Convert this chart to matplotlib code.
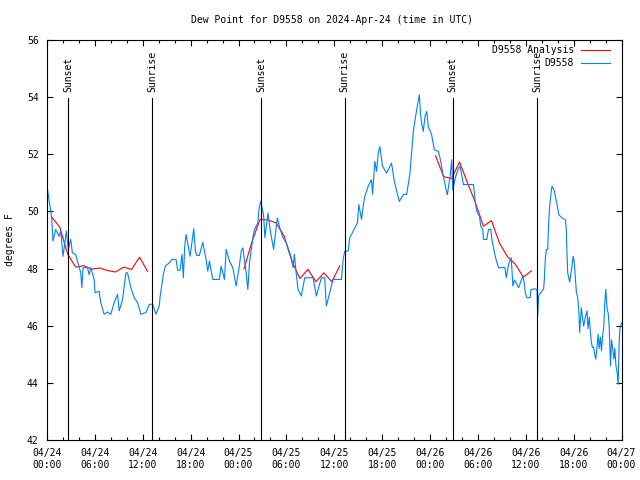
import matplotlib
matplotlib.use('Agg')
import matplotlib.pyplot as plt
import matplotlib.dates as mdates
import pandas as pd

plt.rcParams['font.family'] = ['DejaVu Sans Mono']
plt.rcParams['font.size'] = 7

inicio = pd.Timestamp('2024-04-24 00:00')

# Estacao D9558 - horas desde 04/24 00:00 UTC e ponto de orvalho (F)
horas_obs = [0.04, 0.25, 0.59, 0.75, 1.09, 1.51, 1.72, 2.01, 2.43, 2.68, 2.97, 3.18, 3.6, 3.81,
             4.23, 4.36, 4.52, 5.07, 5.28, 5.49, 5.91, 6.03, 6.53, 6.74, 7.16, 7.58, 8.0, 8.42,
             8.84, 9.05, 9.47, 9.89, 10.09, 10.51, 10.93, 11.35, 11.77, 12.4, 12.82, 13.24, 13.66,
             14.07, 14.16, 14.58, 14.83, 15.33, 15.67, 16.17, 16.38, 16.67, 16.92, 17.09, 17.26,
             17.43, 17.93, 18.39, 18.6, 18.77, 19.1, 19.52, 19.94, 20.15, 20.36, 20.78, 21.61,
             21.82, 22.24, 22.45, 22.87, 23.29, 23.71, 24.13, 24.34, 24.55, 24.96, 25.17, 25.38,
             25.8, 26.01, 26.43, 26.56, 26.77, 27.14, 27.31, 27.69, 28.0, 28.4, 28.86, 29.2, 29.57,
             29.99, 30.62, 30.83, 31.0, 31.25, 31.46, 31.88, 32.3, 33.34, 33.76, 34.39, 34.8, 35.01,
             35.85, 36.9, 37.11, 37.32, 37.74, 37.95, 38.58, 38.91, 39.08, 39.42, 39.63, 39.83,
             40.25, 40.67, 40.8, 40.95, 41.09, 41.3, 41.51, 41.72, 42.05, 42.56, 43.18, 43.5, 43.73,
             44.15, 44.7, 45.07, 45.49, 45.91, 46.33, 46.66, 46.82, 46.95, 47.16, 47.37, 47.58,
             47.79, 48.21, 48.54, 49.05, 49.26, 49.68, 50.1, 50.18, 50.52, 50.73, 50.85, 51.2,
             51.57, 51.77, 52.19, 53.45, 53.66, 53.87, 54.2, 54.37, 54.62, 54.7, 55.12, 55.33,
             55.63, 55.75, 56.17, 56.59, 57.4, 57.55, 57.84, 58.18, 58.39, 58.6, 59.1, 59.64, 59.8,
             59.94, 60.15, 60.55, 60.65, 61.2, 61.41, 61.5, 61.62, 62.24, 62.33, 62.45, 62.58,
             62.75, 62.87, 63.0, 63.17, 63.29, 63.45, 63.59, 63.84, 64.0, 64.13, 64.55, 64.97,
             65.09, 65.18, 65.26, 65.38, 65.51, 65.67, 65.8, 65.93, 66.05, 66.22, 66.35, 66.5,
             66.64, 66.76, 66.85, 66.97, 67.1, 67.26, 67.47, 67.68, 67.8, 67.97, 68.1, 68.23,
             68.35, 68.5, 68.65, 68.78, 68.95, 69.07, 69.2, 69.35, 69.49, 69.62, 69.78, 69.91,
             70.03, 70.2, 70.33, 70.45, 70.62, 70.75, 70.9, 71.04, 71.17, 71.3, 71.46, 71.58,
             71.71, 71.79, 72.0]
orvalho_obs = [50.82, 50.41, 49.77, 48.96, 49.37, 49.13, 49.31, 48.43, 49.31, 48.67, 49.02, 48.55,
               48.49, 48.26, 47.85, 47.33, 48.03, 48.03, 47.79, 48.03, 47.62, 47.15, 47.21, 46.81,
               46.4, 46.48, 46.4, 46.81, 47.1, 46.52, 46.92, 47.85, 47.85, 47.33, 46.98, 46.81,
               46.4, 46.46, 46.75, 46.75, 46.4, 46.69, 46.98, 47.79, 48.09, 48.2, 48.32, 48.32,
               47.94, 47.94, 48.49, 47.68, 48.78, 49.19, 48.43, 49.39, 48.61, 48.46, 48.46, 48.92,
               48.32, 47.91, 48.26, 47.62, 47.62, 48.09, 47.62, 48.67, 48.26, 48.03, 47.39, 48.14,
               48.61, 48.72, 47.85, 47.27, 48.2, 49.08, 49.37, 49.6, 50.06, 50.35, 49.89, 49.08,
               49.95, 49.3, 48.67, 49.77, 49.4, 49.08, 48.9, 48.38, 48.03, 48.5, 47.79, 47.27,
               47.04, 47.68, 47.68, 47.04, 47.68, 47.68, 46.69, 47.62, 47.62, 48.32, 48.61, 48.61,
               49.08, 49.42, 49.6, 50.24, 49.72, 50.18, 50.53, 50.88, 51.11, 50.6, 51.2, 51.75,
               51.4, 52.04, 52.27, 51.58, 51.34, 51.69, 51.1, 50.82, 50.35, 50.6, 50.59, 51.34,
               52.8, 53.56, 54.08, 53.4, 53.09, 52.8, 53.32, 53.5, 52.97, 52.68, 52.16, 52.1,
               51.87, 51.23, 50.65, 50.59, 51.23, 51.81, 50.76, 51.2, 51.52, 51.58, 50.94, 50.94,
               50.35, 50.0, 49.83, 49.48, 49.37, 49.02, 49.02, 49.37, 49.37, 49.02, 48.43, 48.03,
               48.03, 47.68, 48.14, 48.38, 47.39, 47.6, 47.33, 47.74, 47.5, 47.15, 46.98, 46.98,
               47.27, 47.29, 47.27, 46.34, 47.06, 47.29, 47.62, 48.32, 48.67, 48.67, 49.6, 50.18,
               50.65, 50.88, 50.8, 50.71, 50.35, 50.12, 49.89, 49.77, 49.71, 49.31, 48.43, 47.85,
               47.68, 47.53, 47.85, 48.09, 48.43, 48.3, 47.68, 47.15, 47.0, 46.57, 45.76, 46.2,
               46.63, 46.3, 45.99, 46.3, 46.52, 45.9, 46.3, 45.76, 45.41, 45.24, 45.24, 45.0,
               44.83, 45.3, 45.7, 45.2, 45.6, 45.12, 45.6, 45.99, 46.81, 47.27, 46.57, 46.45,
               46.0, 44.6, 45.5, 45.2, 44.83, 45.2, 44.6, 44.36, 43.95, 45.41, 45.87, 46.1]

# Analise (uma curva por noite)
horas_anal_1 = [0.6, 1.6, 2.6, 3.6, 4.6, 5.6, 6.6, 7.6, 8.6, 9.6, 10.6, 11.6, 12.6]
orvalho_anal_1 = [49.8, 49.45, 48.5, 48.05, 48.1, 47.98, 48.02, 47.93, 47.88, 48.05, 47.97, 48.4, 47.9]
horas_anal_2 = [24.7, 25.7, 26.7, 27.7, 28.7, 29.7, 30.7, 31.7, 32.7, 33.7, 34.7, 35.7, 36.7]
orvalho_anal_2 = [48.0, 48.95, 49.72, 49.7, 49.6, 49.15, 48.25, 47.65, 47.97, 47.54, 47.85, 47.54, 48.1]
horas_anal_3 = [48.7, 49.7, 50.7, 51.7, 52.7, 53.7, 54.7, 55.7, 56.7, 57.7, 58.7, 59.7, 60.7]
orvalho_anal_3 = [51.95, 51.22, 51.15, 51.73, 51.0, 50.3, 49.48, 49.68, 48.9, 48.42, 48.15, 47.7, 47.92]

# Por do sol / nascer do sol
horas_sol = [2.68, 13.22, 26.81, 37.31, 50.86, 61.44]
rotulos_sol = ['Sunset', 'Sunrise', 'Sunset', 'Sunrise', 'Sunset', 'Sunrise']


def para_data(horas):
    return inicio + pd.to_timedelta(horas, unit='h')


fig = plt.figure(figsize=(6.4, 4.8), dpi=100)
ax = fig.add_axes([47 / 640, 40 / 480, 574.5 / 640, 400 / 480])

vermelho = '#ff0000'
azul = '#0080ff'

for h, v in [(horas_anal_1, orvalho_anal_1), (horas_anal_2, orvalho_anal_2), (horas_anal_3, orvalho_anal_3)]:
    ax.plot(para_data(h), v, color=vermelho, lw=0.8)
ax.plot(para_data(horas_obs), orvalho_obs, color=azul, lw=0.8)

# linhas verticais de sol
trans = ax.get_xaxis_transform()
for h, rot in zip(horas_sol, rotulos_sol):
    t = para_data([h])[0]
    ax.plot([t, t], [0, 0.855], color='black', lw=0.8, transform=trans)
    ax.text(t, 0.87, rot, rotation=90, ha='center', va='bottom', transform=trans, fontsize=7)

# legenda manual (estilo gnuplot)
ax.text(0.917, 0.975, 'D9558 Analysis', ha='right', va='center', transform=ax.transAxes)
ax.plot([0.9295, 0.98], [0.975, 0.975], color=vermelho, lw=0.8, transform=ax.transAxes)
ax.text(0.917, 0.9425, 'D9558', ha='right', va='center', transform=ax.transAxes)
ax.plot([0.9295, 0.98], [0.9425, 0.9425], color=azul, lw=0.8, transform=ax.transAxes)

ax.set_xlim(inicio, inicio + pd.Timedelta(hours=72))
ax.set_ylim(42, 56)
ax.set_yticks(range(42, 57, 2))
ax.xaxis.set_major_locator(mdates.HourLocator(byhour=range(0, 24, 6)))
ax.xaxis.set_minor_locator(mdates.HourLocator(byhour=range(0, 24, 2)))
ax.xaxis.set_major_formatter(mdates.DateFormatter('%m/%d\n%H:%M'))
ax.tick_params(which='major', direction='in', length=4, width=0.8, top=True, right=True, labelsize=7)
ax.tick_params(which='minor', direction='in', length=2, width=0.8, top=True, right=False)
ax.tick_params(axis='y', pad=6)
ax.tick_params(axis='x', pad=6)
for s in ax.spines.values():
    s.set_linewidth(0.8)

fig.text(332 / 640, 1 - 20 / 480, 'Dew Point for D9558 on 2024-Apr-24 (time in UTC)', ha='center', va='center', fontsize=7)
fig.text(10 / 640, 0.5, 'degrees F', rotation=90, ha='center', va='center', fontsize=7)

plt.savefig('out.png', dpi=100)
